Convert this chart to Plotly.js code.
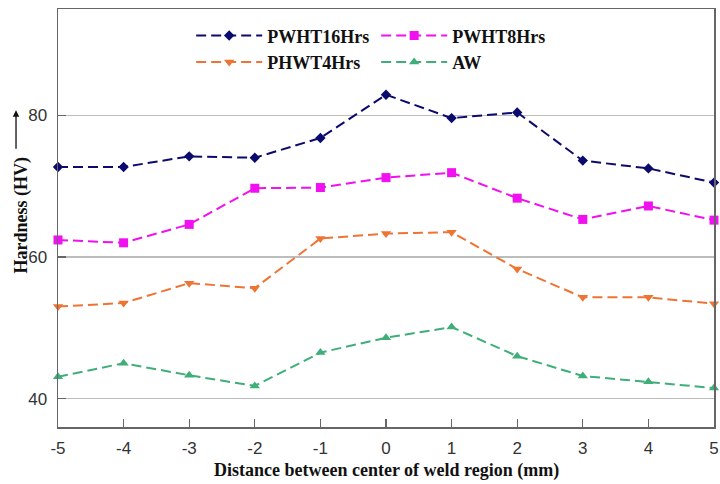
<!DOCTYPE html>
<html>
<head>
<meta charset="utf-8">
<script src="https://cdn.plot.ly/plotly-3.0.1.min.js"></script>
<style>html,body{margin:0;padding:0;background:#fff;}#chart{width:720px;height:484px;}</style>
</head>
<body>
<div id="chart"></div>
<script>
const distance = [-5, -4, -3, -2, -1, 0, 1, 2, 3, 4, 5];
const pwht16 = [72.7, 72.7, 74.2, 74.0, 76.8, 82.9, 79.6, 80.4, 73.6, 72.5, 70.5];
const pwht8  = [62.4, 62.0, 64.6, 69.7, 69.8, 71.2, 71.9, 68.3, 65.3, 67.2, 65.2];
const phwt4  = [53.0, 53.5, 56.3, 55.6, 62.6, 63.3, 63.5, 58.3, 54.3, 54.3, 53.4];
const aw     = [43.1, 45.0, 43.3, 41.8, 46.5, 48.6, 50.1, 46.0, 43.2, 42.4, 41.5];
const seriesNames = ['PWHT16Hrs', 'PWHT8Hrs', 'PHWT4Hrs', 'AW'];
const xTicks = [-5, -4, -3, -2, -1, 0, 1, 2, 3, 4, 5];
const yTicks = [40, 60, 80];

function mk(name, y, color, symbol, size, legend) {
  return {
    type: 'scatter', mode: 'lines+markers', name: name, x: distance, y: y,
    legend: legend, cliponaxis: false,
    line: {color: color, width: 2, dash: '10px,5px'},
    marker: {color: color, symbol: symbol, size: size}
  };
}
const traces = [
  mk(seriesNames[0], pwht16, '#0b0b6e', 'diamond', 8, 'legend'),
  mk(seriesNames[1], pwht8, '#f010f0', 'square', 9, 'legend2'),
  mk(seriesNames[2], phwt4, '#ee7434', 'triangle-down', 9, 'legend'),
  mk(seriesNames[3], aw, '#3fae78', 'triangle-up', 9, 'legend2')
];
const serif = {family: 'Liberation Serif, Times New Roman, serif', size: 18, color: '#111'};
const legendCommon = {
  orientation: 'v', xanchor: 'left', yanchor: 'top', y: 0.98,
  font: {family: serif.family, size: 18, color: '#111', weight: 'bold'},
  bgcolor: 'rgba(0,0,0,0)', borderwidth: 0, itemwidth: 66, tracegroupgap: 0
};
const layout = {
  width: 720, height: 484,
  margin: {l: 58, r: 6, t: 9, b: 57},
  paper_bgcolor: '#fff', plot_bgcolor: '#fff',
  showlegend: true,
  legend: Object.assign({}, legendCommon, {x: 0.203}),
  legend2: Object.assign({}, legendCommon, {x: 0.485}),
  xaxis: {
    range: [-5, 5], tickvals: xTicks, ticktext: xTicks.map(String),
    ticks: 'inside', ticklen: 8, tickwidth: 1.2, tickcolor: '#666',
    showline: true, linecolor: '#666', linewidth: 1.5, mirror: true,
    showgrid: false, zeroline: false, ticklabelstandoff: 5,
    tickfont: {family: 'Liberation Sans, Arial, sans-serif', size: 17, color: '#333'}
  },
  yaxis: {
    range: [36, 95], tickvals: yTicks, ticktext: yTicks.map(String),
    ticks: 'inside', ticklen: 8, tickwidth: 1.2, tickcolor: '#666',
    showline: true, linecolor: '#666', linewidth: 1.5, mirror: true,
    showgrid: true, gridcolor: '#bdbdbd', gridwidth: 1.2, zeroline: false, ticklabelstandoff: 6,
    tickfont: {family: 'Liberation Sans, Arial, sans-serif', size: 17, color: '#333'}
  },
  annotations: [
    {xref: 'paper', yref: 'paper', x: 0.5, y: -0.103, xanchor: 'center', yanchor: 'middle',
     text: '<b>Distance between center of weld region (mm)</b>', showarrow: false, font: serif},
    {xref: 'paper', yref: 'paper', x: -0.0564, y: 0.506, xanchor: 'center', yanchor: 'middle',
     text: '<b>Hardness (HV)</b>', textangle: -90, showarrow: false, font: serif},
    {xref: 'paper', yref: 'paper', x: -0.064, y: 0.758, text: '', showarrow: true,
     ax: 0, ay: 40, arrowhead: 2, arrowsize: 1, arrowwidth: 1.3, arrowcolor: '#111'}
  ]
};
Plotly.newPlot('chart', traces, layout, {displayModeBar: false, staticPlot: true});
</script>
</body>
</html>
